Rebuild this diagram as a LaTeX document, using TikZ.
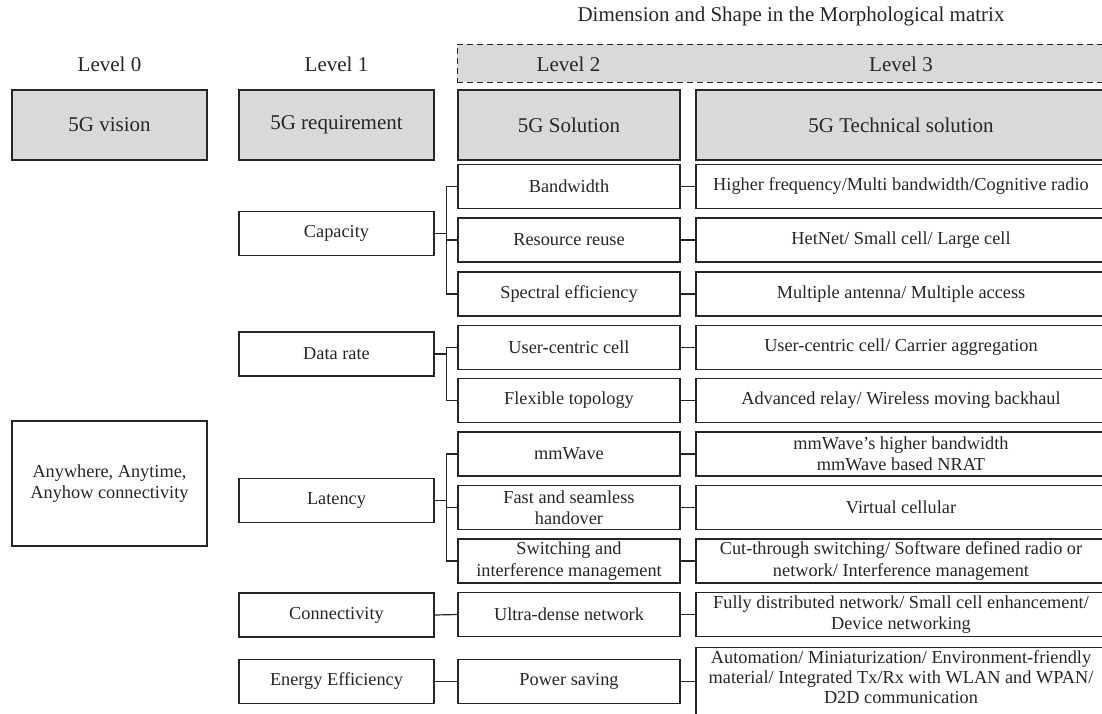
\documentclass[tikz,border=0pt]{standalone}
\usepackage{fontspec}
\setmainfont{Liberation Serif}
\usetikzlibrary{positioning}

\definecolor{hdrgray}{RGB}{217,217,217}
\definecolor{lineblack}{RGB}{38,38,38}

\begin{document}
\begin{tikzpicture}[x=1pt, y=-1pt,
    every node/.style={font=\fontsize{18.3}{21.5}\selectfont, align=center, inner sep=1pt, text=lineblack},
    bigtext/.style={font=\fontsize{21}{25}\selectfont},
    box/.style={draw=lineblack, line width=1.2pt, minimum height=44pt},
    head/.style={box, bigtext, fill=hdrgray, minimum height=70pt},
    lvlone/.style={box, minimum width=195pt},
    lvltwo/.style={box, minimum width=222pt},
    lvlthree/.style={box, minimum width=410pt},
    link/.style={draw=lineblack, line width=1.2pt}]

    \useasboundingbox (0,0) rectangle (1102,713);
    \clip (0,0) rectangle (1102,713);

    % Title over the morphological matrix
    \node[bigtext] (title) at (791,16) {Dimension and Shape in the Morphological matrix};

    % Dashed band for level 2 and 3
    \node[draw=lineblack, fill=hdrgray, line width=1pt, dash pattern=on 6pt off 4pt,
          minimum width=649pt, minimum height=38pt] (band) at (781.5,63) {};

    % Level labels
    \node[bigtext] (lzero) at (109.5,64) {Level 0};
    \node[bigtext] (lone) at (336.5,64) {Level 1};
    \node[bigtext] (ltwo) at (568.5,64) {Level 2};
    \node[bigtext] (lthree) at (901,64) {Level 3};

    % Header boxes
    \node[head, minimum width=195pt] (vision) at (109.5,125) {5G vision};
    \node[head, minimum width=195pt] (require) at (336.5,125) {5G requirement};
    \node[head, minimum width=222pt] (solution) at (569,125) {5G Solution};
    \node[head, minimum width=410pt] (technical) at (901,125) {5G Technical solution};

    % Level 0
    \node[box, minimum width=195pt, minimum height=125pt] (anywhere) at (109.5,483.5) {Anywhere, Anytime,\\Anyhow connectivity};

    % Level 1
    \node[lvlone] (capacity) at (336.5,233.5) {Capacity};
    \node[lvlone] (datarate) at (336.5,354) {Data rate};
    \node[lvlone] (latency) at (336.5,500.5) {Latency};
    \node[lvlone] (connect) at (336.5,615) {Connectivity};
    \node[lvlone] (energy) at (336.5,681.5) {Energy Efficiency};

    % Level 2
    \node[lvltwo] (bandwidth) at (569,186.5) {Bandwidth};
    \node[lvltwo] (reuse) at (569,240) {Resource reuse};
    \node[lvltwo] (spectral) at (569,294) {Spectral efficiency};
    \node[lvltwo] (usercell) at (569,347.5) {User-centric cell};
    \node[lvltwo] (topology) at (569,400.5) {Flexible topology};
    \node[lvltwo] (mmwave) at (569,454) {mmWave};
    \node[lvltwo] (handover) at (569,507.5) {Fast and seamless\\handover};
    \node[lvltwo] (switching) at (569,561) {Switching and\\interference management};
    \node[lvltwo] (ultradense) at (569,614.5) {Ultra-dense network};
    \node[lvltwo] (powersave) at (569,681.5) {Power saving};

    % Level 3
    \node[lvlthree] (tbandwidth) at (901,186.5) {Higher frequency/Multi bandwidth/Cognitive radio};
    \node[lvlthree] (treuse) at (901,240) {HetNet/ Small cell/ Large cell};
    \node[lvlthree] (tspectral) at (901,294) {Multiple antenna/ Multiple access};
    \node[lvlthree] (tusercell) at (901,347.5) {User-centric cell/ Carrier aggregation};
    \node[lvlthree] (ttopology) at (901,400.5) {Advanced relay/ Wireless moving backhaul};
    \node[lvlthree] (tmmwave) at (901,454) {mmWave’s higher bandwidth\\mmWave based NRAT};
    \node[lvlthree] (thandover) at (901,507.5) {Virtual cellular};
    \node[lvlthree] (tswitching) at (901,561) {Cut-through switching/ Software defined radio or\\network/ Interference management};
    \node[lvlthree] (tultradense) at (901,614.5) {Fully distributed network/ Small cell enhancement/\\Device networking};
    % last box runs past the lower edge
    \node[lvlthree, anchor=north, minimum height=80pt] (tpowersave) at (901,647) {};
    \node[font=\fontsize{18.3}{19.8}\selectfont] (tpowertext) at (901,677) {Automation/ Miniaturization/ Environment-friendly\\material/ Integrated Tx/Rx with WLAN and WPAN/\\D2D communication};

    % Level 1 to level 2 branches
    \draw[link] (capacity.east) -- ++(12,0) |- (bandwidth.west);
    \draw[link] (capacity.east) -- ++(12,0) |- (reuse.west);
    \draw[link] (capacity.east) -- ++(12,0) |- (spectral.west);
    \draw[link] (datarate.east) -- ++(12,0) |- (usercell.west);
    \draw[link] (datarate.east) -- ++(12,0) |- (topology.west);
    \draw[link] (latency.east) -- ++(12,0) |- (mmwave.west);
    \draw[link] (latency.east) -- ++(12,0) |- (handover.west);
    \draw[link] (latency.east) -- ++(12,0) |- (switching.west);
    \draw[link] (connect.east) -- (ultradense.west);
    \draw[link] (energy.east) -- (powersave.west);

    % Level 2 to level 3
    \draw[link] (bandwidth.east) -- (tbandwidth.west);
    \draw[link] (reuse.east) -- (treuse.west);
    \draw[link] (spectral.east) -- (tspectral.west);
    \draw[link] (usercell.east) -- (tusercell.west);
    \draw[link] (topology.east) -- (ttopology.west);
    \draw[link] (mmwave.east) -- (tmmwave.west);
    \draw[link] (handover.east) -- (thandover.west);
    \draw[link] (switching.east) -- (tswitching.west);
    \draw[link] (ultradense.east) -- (tultradense.west);
    \draw[link] (powersave.east) -- (tpowersave.west |- powersave.east);
\end{tikzpicture}
\end{document}
